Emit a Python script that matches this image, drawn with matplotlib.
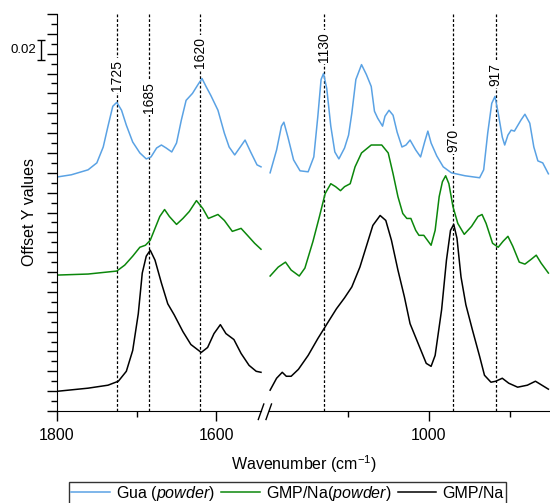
import matplotlib
matplotlib.use('Agg')
import matplotlib.pyplot as plt
from matplotlib.lines import Line2D
from matplotlib.ticker import FixedLocator, MultipleLocator, NullFormatter

plt.rcParams['font.family'] = ['Liberation Sans', 'DejaVu Sans']
plt.rcParams['mathtext.fontset'] = 'custom'
plt.rcParams['mathtext.rm'] = 'Liberation Sans'
plt.rcParams['mathtext.it'] = 'Liberation Sans:italic'

BLUE = '#5aa2e4'
GREEN = '#0b870b'
BLACK = '#000000'

# Gua (powder), left part (1800-1544) and right part (1196-852)
gua_wn_l = [1798, 1782, 1761, 1750, 1742, 1736, 1730, 1725, 1719, 1713, 1705, 1696, 1688,
            1682, 1675, 1669, 1663, 1656, 1650, 1644, 1638, 1630, 1623, 1618, 1613, 1607,
            1598, 1590, 1584, 1577, 1570, 1564, 1557, 1549, 1544]
gua_y_l = [0.236, 0.238, 0.243, 0.250, 0.266, 0.287, 0.307, 0.311, 0.303, 0.288, 0.271, 0.260,
           0.254, 0.256, 0.265, 0.268, 0.265, 0.261, 0.270, 0.293, 0.313, 0.320, 0.329, 0.335,
           0.327, 0.318, 0.303, 0.280, 0.266, 0.258, 0.266, 0.273, 0.261, 0.248, 0.246]
gua_wn_r = [1196, 1188, 1182, 1179, 1174, 1167, 1159, 1149, 1142, 1137, 1133, 1130, 1126,
            1121, 1116, 1111, 1104, 1099, 1095, 1090, 1083, 1077, 1071, 1067, 1063, 1057,
            1054, 1049, 1044, 1039, 1033, 1028, 1023, 1016, 1010, 1005, 1001, 997, 990, 982,
            972, 955, 937, 932, 927, 922, 918, 914, 909, 906, 902, 898, 894, 886, 881, 875,
            870, 865, 859, 852]
gua_y_r = [0.240, 0.263, 0.287, 0.291, 0.276, 0.253, 0.242, 0.241, 0.256, 0.297, 0.334, 0.340,
           0.325, 0.287, 0.261, 0.254, 0.265, 0.278, 0.300, 0.334, 0.349, 0.339, 0.327, 0.302,
           0.295, 0.287, 0.297, 0.303, 0.298, 0.281, 0.266, 0.268, 0.273, 0.263, 0.256, 0.271,
           0.282, 0.270, 0.257, 0.246, 0.240, 0.237, 0.235, 0.243, 0.280, 0.310, 0.317, 0.300,
           0.276, 0.268, 0.278, 0.283, 0.282, 0.293, 0.299, 0.290, 0.266, 0.252, 0.250, 0.239]

# GMP/Na (powder)
gmpp_wn_l = [1798, 1761, 1725, 1715, 1705, 1696, 1689, 1683, 1677, 1671, 1665, 1659, 1650,
             1642, 1634, 1625, 1617, 1610, 1598, 1590, 1580, 1569, 1561, 1552, 1544]
gmpp_y_l = [0.137, 0.138, 0.141, 0.147, 0.156, 0.165, 0.167, 0.172, 0.184, 0.196, 0.203, 0.196,
            0.188, 0.194, 0.201, 0.212, 0.204, 0.194, 0.198, 0.192, 0.181, 0.184, 0.177, 0.169,
            0.163]
gmpp_wn_r = [1196, 1186, 1177, 1170, 1160, 1153, 1143, 1135, 1128, 1121, 1115, 1109, 1104,
             1097, 1091, 1083, 1071, 1058, 1050, 1044, 1038, 1032, 1027, 1022, 1016, 1012,
             1006, 997, 992, 987, 983, 979, 975, 970, 964, 956, 947, 939, 934, 929, 921, 914,
             908, 902, 896, 888, 881, 873, 867, 861, 852]
gmpp_y_r = [0.136, 0.145, 0.150, 0.142, 0.136, 0.144, 0.171, 0.196, 0.219, 0.229, 0.226, 0.222,
            0.226, 0.229, 0.246, 0.260, 0.268, 0.268, 0.260, 0.239, 0.216, 0.199, 0.194, 0.194,
            0.182, 0.177, 0.177, 0.167, 0.182, 0.216, 0.231, 0.237, 0.229, 0.206, 0.189, 0.178,
            0.186, 0.196, 0.198, 0.189, 0.169, 0.165, 0.171, 0.176, 0.166, 0.150, 0.148, 0.153,
            0.157, 0.149, 0.139]

# GMP/Na
gmp_wn_l = [1798, 1761, 1736, 1723, 1713, 1705, 1698, 1693, 1688, 1683, 1677, 1669, 1661,
            1653, 1642, 1632, 1619, 1611, 1603, 1595, 1588, 1578, 1569, 1559, 1550, 1544]
gmp_y_l = [0.020, 0.023, 0.026, 0.030, 0.040, 0.061, 0.098, 0.139, 0.156, 0.162, 0.152, 0.129,
           0.108, 0.097, 0.080, 0.067, 0.059, 0.064, 0.078, 0.087, 0.078, 0.072, 0.058, 0.046,
           0.040, 0.039]
gmp_wn_r = [1196, 1188, 1181, 1176, 1170, 1161, 1149, 1137, 1124, 1114, 1104, 1095, 1085,
            1077, 1069, 1060, 1053, 1046, 1038, 1030, 1023, 1015, 1009, 1003, 997, 992, 984,
            978, 973, 969, 965, 960, 954, 946, 937, 931, 923, 917, 909, 901, 890, 878, 868,
            860, 852]
gmp_y_r = [0.021, 0.033, 0.039, 0.035, 0.035, 0.042, 0.056, 0.073, 0.090, 0.103, 0.114, 0.125,
           0.145, 0.166, 0.187, 0.197, 0.192, 0.172, 0.142, 0.115, 0.088, 0.072, 0.060, 0.048,
           0.045, 0.056, 0.102, 0.152, 0.182, 0.188, 0.174, 0.135, 0.107, 0.082, 0.055, 0.036,
           0.029, 0.030, 0.033, 0.028, 0.024, 0.026, 0.030, 0.026, 0.022]

# marked bands and the height of their labels
marks = [1725, 1685, 1620, 1130, 970, 917]
mark_label_y = [0.338, 0.316, 0.361, 0.367, 0.273, 0.339]

W, H = 550, 503
fig = plt.figure(figsize=(W / 100, H / 100), dpi=100)


def frac(x0, x1, y_top, y_bot):
    return [x0 / W, 1 - y_bot / H, (x1 - x0) / W, (y_bot - y_top) / H]


ax_l = fig.add_axes(frac(57, 261, 14, 411))
ax_r = fig.add_axes(frac(268.5, 550, 14, 411), sharey=ax_l)

series = [
    (gua_wn_l, gua_y_l, gua_wn_r, gua_y_r, BLUE, 'Gua ($\\mathit{powder}$)'),
    (gmpp_wn_l, gmpp_y_l, gmpp_wn_r, gmpp_y_r, GREEN, 'GMP/Na($\\mathit{powder}$)'),
    (gmp_wn_l, gmp_y_l, gmp_wn_r, gmp_y_r, BLACK, 'GMP/Na'),
]
handles = []
for wl, yl, wr, yr, c, lab in series:
    h, = ax_l.plot(wl, yl, color=c, lw=1.1, label=lab, clip_on=False)
    ax_r.plot(wr, yr, color=c, lw=1.1, clip_on=False)
    handles.append(h)

ax_l.set_xlim(1800, 1544)
ax_r.set_xlim(1198, 850)
ax_l.set_ylim(0, 0.4)

for wn, ly in zip(marks, mark_label_y):
    ax = ax_l if wn > 1400 else ax_r
    ax.axvline(wn, color='black', lw=0.9, ls=(0, (2.2, 1.6)), zorder=1)
    ax.text(wn, ly, str(wn), rotation=90, ha='center', va='center', fontsize=10,
            bbox=dict(facecolor='white', edgecolor='none', pad=1.5), zorder=3)

for ax in (ax_l, ax_r):
    ax.spines['top'].set_visible(False)
    ax.spines['right'].set_visible(False)
    ax.tick_params(axis='x', which='major', direction='out', length=7, width=1,
                   labelsize=11.5, pad=5)
    ax.tick_params(axis='x', which='minor', direction='out', length=4, width=1)

ax_r.spines['left'].set_visible(False)
ax_r.tick_params(axis='y', which='both', left=False, labelleft=False)

ax_l.xaxis.set_major_locator(FixedLocator([1800, 1600]))
ax_l.xaxis.set_minor_locator(FixedLocator([1700]))
ax_r.xaxis.set_major_locator(FixedLocator([1000]))
ax_r.xaxis.set_minor_locator(FixedLocator([1100, 900]))

ax_l.yaxis.set_major_locator(MultipleLocator(0.02))
ax_l.yaxis.set_minor_locator(MultipleLocator(0.01))
ax_l.yaxis.set_major_formatter(NullFormatter())
ax_l.tick_params(axis='y', which='major', direction='out', length=7, width=1)
ax_l.tick_params(axis='y', which='minor', direction='out', length=4, width=1)
ax_l.set_ylabel('Offset Y values', fontsize=11.5, labelpad=4)

# 0.02 scale bar
ax_l.errorbar([1820], [0.364], yerr=[0.01], color='black', lw=1, capsize=3,
              capthick=1, clip_on=False)
ax_l.text(1826, 0.364, '0.02', ha='right', va='center', fontsize=9.5)

# axis break marks
for x0 in (258.3, 266.0):
    fig.add_artist(Line2D([x0 / W, (x0 + 5.5) / W], [1 - 419.5 / H, 1 - 404 / H],
                          color='black', lw=1))

fig.text(304 / W, 1 - 464 / H, 'Wavenumber (cm$^{-1}$)', ha='center', va='center',
         fontsize=11.5)

leg = fig.legend(handles=handles, loc='upper center', bbox_to_anchor=(287.5 / W, 1 - 481.5 / H),
                 ncol=3, fontsize=11.5, frameon=True, fancybox=False, edgecolor='black',
                 handlelength=2.4, handletextpad=0.4, columnspacing=0.4, borderpad=0.15,
                 borderaxespad=0)
leg.get_frame().set_linewidth(1)

fig.savefig('out.png', dpi=100)
